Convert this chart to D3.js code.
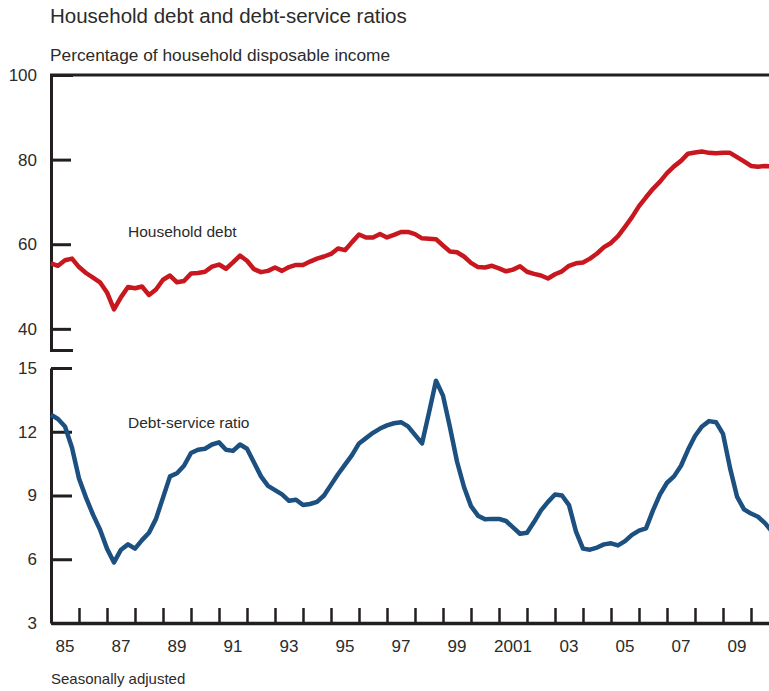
<!DOCTYPE html>
<html>
<head>
<meta charset="utf-8">
<script src="https://cdn.jsdelivr.net/npm/d3@7"></script>
<style>
  body { margin: 0; background: #fff; }
  svg text { font-family: "Liberation Sans", Arial, sans-serif; fill: #2b2b2b; }
  .axis path, .axis line { stroke: #231f20; }
</style>
</head>
<body>
<svg width="769" height="691"></svg>
<script>
// quarterly, 1985:Q1 onward
const firstYear = 1985;

const householdDebt = [
  55.5, 54.9, 56.2, 56.6, 54.6, 53.2, 52.1, 51.0, 48.6, 44.6,
  47.5, 49.9, 49.6, 50.0, 48.0, 49.3, 51.6, 52.6, 51.0, 51.3,
  53.1, 53.2, 53.5, 54.7, 55.2, 54.2, 55.7, 57.3, 56.1, 54.1,
  53.4, 53.7, 54.5, 53.7, 54.6, 55.1, 55.1, 55.9, 56.6, 57.1,
  57.7, 59.0, 58.6, 60.5, 62.3, 61.6, 61.6, 62.4, 61.6, 62.2,
  62.9, 62.9, 62.4, 61.4, 61.3, 61.2, 59.7, 58.3, 58.1, 57.1,
  55.6, 54.6, 54.5, 54.9, 54.3, 53.6, 54.0, 54.8, 53.5, 53.0,
  52.6, 51.9, 52.9, 53.6, 54.9, 55.5, 55.7, 56.6, 57.8, 59.3,
  60.3, 61.9, 64.1, 66.4, 69.0, 71.1, 73.1, 74.8, 76.8, 78.4,
  79.7, 81.4, 81.7, 81.9, 81.6, 81.5, 81.6, 81.6, 80.6, 79.6,
  78.5, 78.3, 78.5, 78.4
];

const debtService = [
  12.8, 12.6, 12.25, 11.25, 9.8, 8.9, 8.1, 7.4, 6.5, 5.85,
  6.45, 6.7, 6.5, 6.9, 7.25, 7.9, 8.9, 9.9, 10.05, 10.4,
  11.0, 11.15, 11.2, 11.4, 11.5, 11.15, 11.1, 11.4, 11.2, 10.55,
  9.9, 9.45, 9.25, 9.05, 8.75, 8.8, 8.55, 8.6, 8.7, 9.0,
  9.5, 10.0, 10.45, 10.9, 11.45, 11.7, 11.95, 12.15, 12.3, 12.4,
  12.45, 12.25, 11.85, 11.45, 12.9, 14.4, 13.7, 12.2, 10.6, 9.4,
  8.5, 8.05, 7.88, 7.9, 7.9, 7.8, 7.5, 7.2, 7.25, 7.75,
  8.3, 8.7, 9.05, 9.0, 8.55, 7.3, 6.5, 6.45, 6.55, 6.7,
  6.75, 6.65, 6.85, 7.15, 7.35, 7.45, 8.3, 9.05, 9.6, 9.9,
  10.4, 11.15, 11.8, 12.25, 12.5, 12.45, 11.9, 10.3, 8.95, 8.35,
  8.15, 8.0, 7.7, 7.3
];

const debtTicks = [40, 60, 80, 100];
const ratioTicks = [3, 6, 9, 12, 15];
const yearTicks = d3.range(1986, 2011);
const labelYears = [1985, 1987, 1989, 1991, 1993, 1995, 1997, 1999, 2001, 2003, 2005, 2007, 2009];
const labelText = ["85", "87", "89", "91", "93", "95", "97", "99", "2001", "03", "05", "07", "09"];

const svg = d3.select("svg");

const x = d3.scaleLinear().domain([1985, 2010.75]).range([51, 772]);
const yTop = d3.scaleLinear().domain([35, 100]).range([350, 75]);
const yBot = d3.scaleLinear().domain([3, 15]).range([623, 368]);

// titles
svg.append("text")
  .attr("x", 50).attr("y", 23)
  .style("font-size", "20.5px")
  .text("Household debt and debt-service ratios");

svg.append("text")
  .attr("x", 50).attr("y", 61)
  .style("font-size", "17.3px")
  .text("Percentage of household disposable income");

svg.append("text")
  .attr("x", 51).attr("y", 684)
  .style("font-size", "15px")
  .text("Seasonally adjusted");

// top frame line
svg.append("line")
  .attr("x1", 50).attr("x2", 769)
  .attr("y1", yTop(100)).attr("y2", yTop(100))
  .attr("stroke", "#231f20").attr("stroke-width", 3);

// left axes
function styleAxis(g) {
  g.attr("class", "axis");
  g.select(".domain").attr("stroke-width", 3);
  g.selectAll(".tick line").attr("stroke-width", 3);
  g.selectAll(".tick text")
    .style("font-size", "17px")
    .attr("fill", "#2b2b2b");
}

svg.append("g")
  .attr("transform", "translate(51,0)")
  .call(d3.axisLeft(yTop)
    .tickValues(debtTicks)
    .tickSizeInner(-20)
    .tickSizeOuter(-22)
    .tickPadding(14)
    .tickFormat(d3.format("d")))
  .call(styleAxis);

svg.append("g")
  .attr("transform", "translate(51,0)")
  .call(d3.axisLeft(yBot)
    .tickValues(ratioTicks)
    .tickSizeInner(-21)
    .tickSizeOuter(0)
    .tickPadding(14)
    .tickFormat(d3.format("d")))
  .call(styleAxis);

// bottom axis: year ticks point up, labels sit mid-year
svg.append("g")
  .attr("transform", "translate(0," + yBot(3) + ")")
  .call(d3.axisBottom(x)
    .tickValues(yearTicks)
    .tickSizeInner(-15)
    .tickSizeOuter(0)
    .tickFormat(""))
  .call(g => {
    g.attr("class", "axis");
    g.select(".domain").attr("stroke-width", 3.5);
    g.selectAll(".tick line").attr("stroke-width", 2.5);
  });

svg.append("g")
  .selectAll("text")
  .data(labelYears)
  .enter()
  .append("text")
  .attr("x", d => x(d + 0.5))
  .attr("y", 652)
  .attr("text-anchor", "middle")
  .style("font-size", "17px")
  .text((d, i) => labelText[i]);

// series
const tOf = i => firstYear + i / 4;

svg.append("path")
  .datum(householdDebt)
  .attr("fill", "none")
  .attr("stroke", "#c8171e")
  .attr("stroke-width", 4.5)
  .attr("stroke-linejoin", "round")
  .attr("d", d3.line().x((d, i) => x(tOf(i))).y(d => yTop(d)));

svg.append("path")
  .datum(debtService)
  .attr("fill", "none")
  .attr("stroke", "#1c5080")
  .attr("stroke-width", 4.5)
  .attr("stroke-linejoin", "round")
  .attr("d", d3.line().x((d, i) => x(tOf(i))).y(d => yBot(d)));

// series labels
svg.append("text")
  .attr("x", 128).attr("y", 237)
  .style("font-size", "15.5px")
  .text("Household debt");

svg.append("text")
  .attr("x", 128).attr("y", 428)
  .style("font-size", "15.5px")
  .text("Debt-service ratio");
</script>
</body>
</html>
